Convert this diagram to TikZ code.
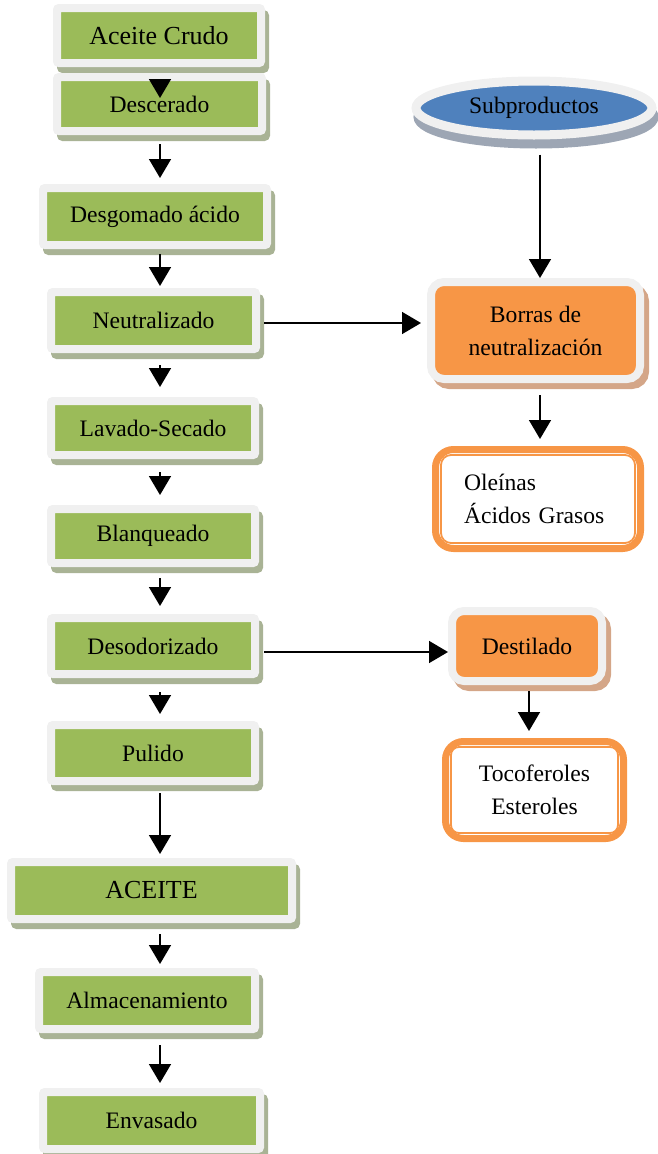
\documentclass[tikz,border=0pt]{standalone}
\usepackage{fontspec}
\setmainfont{Liberation Serif}
\usetikzlibrary{arrows.meta,shapes.geometric,calc}
\definecolor{boxgreen}{HTML}{9BBB59}
\definecolor{framegray}{HTML}{F0F0F0}
\definecolor{greenshadow}{HTML}{A9B395}
\definecolor{boxorange}{HTML}{F79646}
\definecolor{tanshadow}{HTML}{D4A688}
\definecolor{boxblue}{HTML}{4F81BD}
\definecolor{ellshadow}{HTML}{9DA6B4}
\begin{document}
\begin{tikzpicture}[x=1pt,y=-1pt,
  txt/.style={font=\fontsize{23.6pt}{33pt}\selectfont},
  bigtxt/.style={font=\fontsize{26pt}{33pt}\selectfont},
  stepbox/.style 2 args={rectangle, inner sep=0pt, minimum width=#1, minimum height=#2,
    fill=boxgreen, draw=framegray, line width=8pt, rounded corners=2pt,
    preaction={fill=greenshadow, draw=greenshadow, line width=8pt,
      transform canvas={xshift=4pt,yshift=-6pt}}, txt},
  orbox/.style 2 args={rectangle, inner sep=0pt, minimum width=#1, minimum height=#2,
    fill=boxorange, draw=framegray, line width=8pt, rounded corners=13pt,
    preaction={fill=tanshadow, draw=tanshadow, line width=8pt,
      transform canvas={xshift=5pt,yshift=-6pt}}, txt, align=center},
  resbox/.style 2 args={rectangle, inner sep=0pt, minimum width=#1, minimum height=#2,
    fill=white, draw=boxorange, line width=7pt, rounded corners=18pt, txt},
  innerline/.style={draw=boxorange, line width=1.8pt, rounded corners=10pt},
  arr/.style={line width=1.6pt, -{Triangle[length=19pt,width=22pt]}}
]
\useasboundingbox (0,0) rectangle (657,1154);

% guide lines for the vertical connectors
\coordinate (spine) at (160,0);
\coordinate (rx) at (540,0);
\coordinate (dx) at (529,0);

% main process column
\node[stepbox={204pt}{55pt}, bigtxt] (crudo) at (159,35.5) {Aceite Crudo};
\node[stepbox={205pt}{54pt}] (descerado) at (159.5,104) {Descerado};
\node[stepbox={224pt}{57pt}] (desgomado) at (155,216.5) {Desgomado ácido};
\node[stepbox={205pt}{57pt}] (neutral) at (153.5,320.5) {Neutralizado};
\node[stepbox={204pt}{54pt}] (lavado) at (153,428) {Lavado-Secado};
\node[stepbox={204pt}{54pt}] (blanq) at (153,536) {Blanqueado};
\node[stepbox={204pt}{56pt}] (desodor) at (153,646) {Desodorizado};
\node[stepbox={204pt}{56pt}] (pulido) at (153,753) {Pulido};
\node[stepbox={281pt}{57pt}, bigtxt] (aceite) at (151.5,890.5) {ACEITE};
\node[stepbox={216pt}{57pt}] (almac) at (147,1000.5) {Almacenamiento};
\node[stepbox={217pt}{57pt}] (envas) at (151.5,1120.5) {Envasado};

% by-products
\node[ellipse, inner sep=0pt, minimum width=236pt, minimum height=54pt,
  fill=boxblue, draw=framegray, line width=9pt,
  preaction={fill=ellshadow, draw=ellshadow, line width=9pt,
    transform canvas={xshift=2pt,yshift=-9pt}}, txt] (sub) at (534,108) {Subproductos};
\node[orbox={209pt}{97pt}] (borras) at (535.5,330.5) {Borras de\\neutralización};
\node[resbox={205pt}{99pt}, text width=148pt, align=left] (ole) at (538,499) {Oleínas\\Ácidos Grasos};
\draw[innerline] ($(ole.north west)+(9,9)$) rectangle ($(ole.south east)+(-9,-9)$);
\node[orbox={150pt}{70pt}, rounded corners=12pt] (destil) at (527,646) {Destilado};
\node[resbox={178pt}{97pt}, align=center] (toco) at (534.5,790) {Tocoferoles\\Esteroles};
\draw[innerline, rounded corners=8pt] ($(toco.north west)+(9,9)$) rectangle ($(toco.south east)+(-9,-9)$);

% vertical flow
\draw[arr] ($(crudo.south -| spine)+(0,12)$) -- ($(descerado.north -| spine)+(0,25)$);
\draw[arr] ($(descerado.south -| spine)+(0,9)$) -- ($(desgomado.north -| spine)+(0,-6)$);
\draw[arr] ($(desgomado.south -| spine)+(0,5)$) -- ($(neutral.north -| spine)+(0,-2)$);
\draw[arr] ($(neutral.south -| spine)+(0,12)$) -- ($(lavado.north -| spine)+(0,-10)$);
\draw[arr] ($(lavado.south -| spine)+(0,13)$) -- ($(blanq.north -| spine)+(0,-10)$);
\draw[arr] ($(blanq.south -| spine)+(0,11)$) -- ($(desodor.north -| spine)+(0,-8)$);
\draw[arr] ($(desodor.south -| spine)+(0,14)$) -- ($(pulido.north -| spine)+(0,-7)$);
\draw[arr] ($(pulido.south -| spine)+(0,8)$) -- ($(aceite.north -| spine)+(0,-4)$);
\draw[arr] ($(aceite.south -| spine)+(0,11)$) -- ($(almac.north -| spine)+(0,-4)$);
\draw[arr] ($(almac.south -| spine)+(0,12)$) -- ($(envas.north -| spine)+(0,-5)$);

% side branches
\draw[arr] ($(neutral.east)+(4,2.5)$) -- ($(borras.west)+(-6,-7.5)$);
\draw[arr] ($(desodor.east)+(5,6)$) -- ($(destil.west)+(0,6)$);
\draw[arr] ($(sub.south -| rx)+(0,15)$) -- (borras.north -| rx);
\draw[arr] ($(borras.south -| rx)+(0,12)$) -- ($(ole.north -| rx)+(0,-7)$);
\draw[arr] ($(destil.south -| dx)+(0,6)$) -- ($(toco.north -| dx)+(0,-7)$);
\end{tikzpicture}
\end{document}
